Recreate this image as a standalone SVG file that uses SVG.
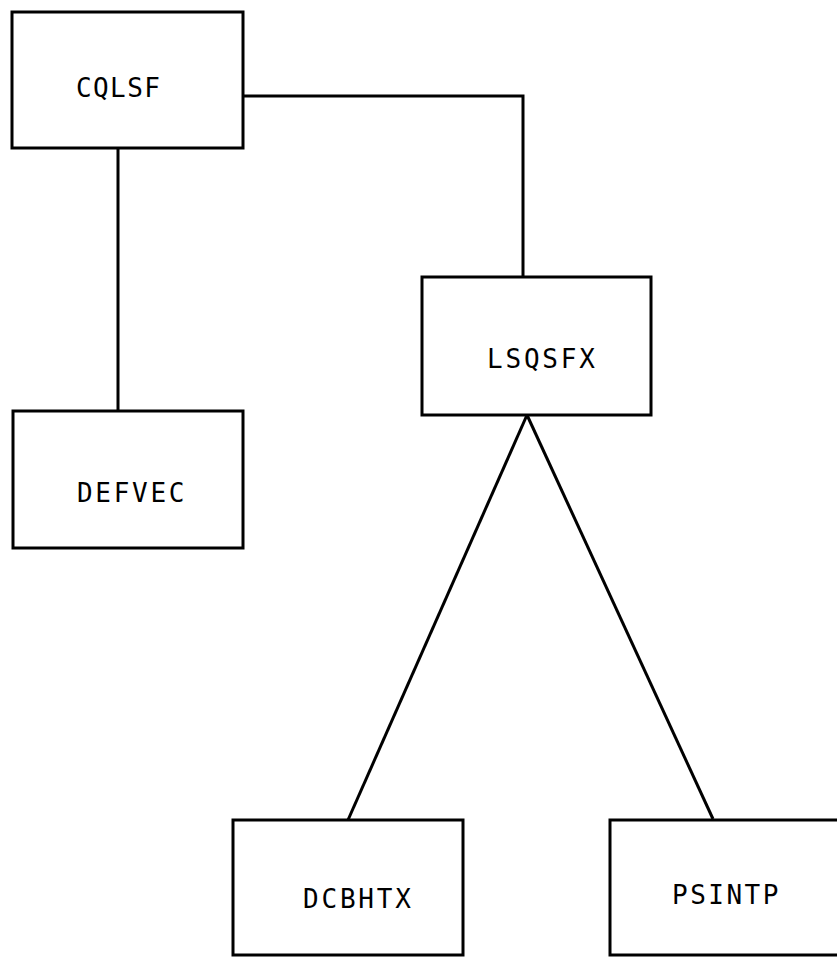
<svg xmlns="http://www.w3.org/2000/svg" width="837" height="957" viewBox="0 0 837 957">
<style>
.box{fill:#fff;stroke:#000;stroke-width:3}
.lbl{font-family:"DejaVu Sans Mono","Liberation Mono",monospace;font-size:26px;fill:#000}
.conn{fill:none;stroke:#000;stroke-width:3}
</style>
<rect width="837" height="957" fill="#fff"/>
<g id="connectors">
<path class="conn" d="M243,96 H523 V277"/>
<path class="conn" d="M118,148 V411"/>
<path class="conn" d="M527,415 L348,820"/>
<path class="conn" d="M527,415 L713,819"/>
</g>
<g id="CQLSF">
<rect class="box" x="12" y="12" width="231" height="136"/>
<text class="lbl" x="76" y="97" style="letter-spacing:1.4px">CQLSF</text>
</g>
<g id="DEFVEC">
<rect class="box" x="13" y="411" width="230" height="137"/>
<text class="lbl" x="77" y="502" style="letter-spacing:2.7px">DEFVEC</text>
</g>
<g id="LSQSFX">
<rect class="box" x="422" y="277" width="229" height="138"/>
<text class="lbl" x="487" y="368" style="letter-spacing:2.8px">LSQSFX</text>
</g>
<g id="DCBHTX">
<rect class="box" x="233" y="820" width="230" height="135"/>
<text class="lbl" x="303" y="908" style="letter-spacing:2.8px">DCBHTX</text>
</g>
<g id="PSINTP">
<rect class="box" x="610" y="820" width="240" height="135"/>
<text class="lbl" x="672" y="904" style="letter-spacing:2.5px">PSINTP</text>
</g>
</svg>
